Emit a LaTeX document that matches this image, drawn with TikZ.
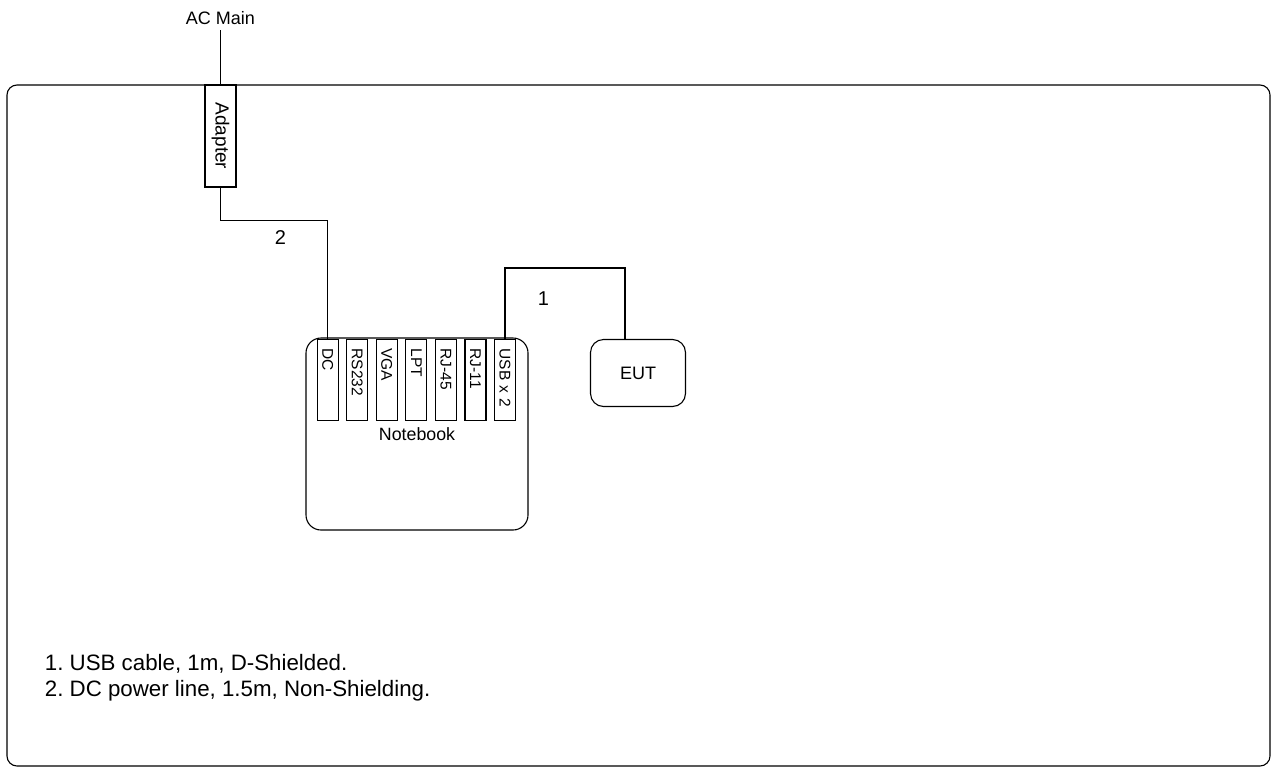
\documentclass[tikz,border=0pt]{standalone}
\usepackage{fontspec}
\setmainfont{Liberation Sans}
\frenchspacing
\usetikzlibrary{positioning, calc}
\tikzstyle{device} = [draw, rectangle, rounded corners=13pt, inner sep=0pt, font=\fontsize{18}{20}\selectfont]
\tikzstyle{port} = [draw, rectangle, rotate=-90, minimum width=81pt, minimum height=21pt, inner xsep=9pt, inner ysep=0pt, text width=63pt, align=left, font=\fontsize{15.5}{17}\selectfont]
\tikzstyle{tag} = [font=\fontsize{20}{22}\selectfont]
\tikzstyle{wire} = [draw, line width=1.1pt]

\begin{document}
\begin{tikzpicture}[x=1pt, y=-1pt, line width=1.1pt]
        \useasboundingbox (0,0) rectangle (1274,769);
        % The room and what stands in it
        \node [draw, rounded corners=10pt, minimum width=1263pt, minimum height=681pt, inner sep=0pt] (room) at (638.5,425.5) {};
        \node [font=\fontsize{18}{20}\selectfont] (acMain) at (220.5,18) {AC Main};
        \node [draw, rectangle, rotate=-90, minimum width=102pt, minimum height=31pt, inner sep=0pt, font=\fontsize{19}{21}\selectfont] (adapter) at (220.5,136) {Adapter};
        \node [device, rounded corners=15pt, minimum width=222pt, minimum height=192pt, font=\fontsize{17.8}{20}\selectfont] (notebook) at (417,434) {Notebook};
        \node [device, minimum width=95pt, minimum height=67pt] (eut) at (638,373) {EUT};

        % Ports of the notebook, one beside the other
        \foreach \name/\txt [count=\i from 0] in {dc/DC, rs232/RS232, vga/VGA, lpt/LPT, rjA/RJ-45, rjB/RJ-11, usb/USB x 2}
            \node [port] (\name) at (327.7+29.55*\i,380) {\txt};
        \coordinate (eutIn) at ($(eut.north)+(-13,0)$);

        % Cables
        \draw [wire] (acMain) ++(0,12) coordinate (acEnd) -- (adapter.west);
        \draw [wire] (adapter.east) -- ++(0,33) -| node[tag, pos=0.28, below=6pt] {2} (dc.west);
        \draw [wire] (usb.west) -- ++(0,-71) -| node[tag, pos=0.16, below=20pt] {1} (eutIn);

        % Notes
        \node [font=\fontsize{22.3}{26}\selectfont, align=left, anchor=north west] (notes) at (41,650) {1. USB cable, 1m, D-Shielded.\\2. DC power line, 1.5m, Non-Shielding.};
    \end{tikzpicture}
\end{document}
